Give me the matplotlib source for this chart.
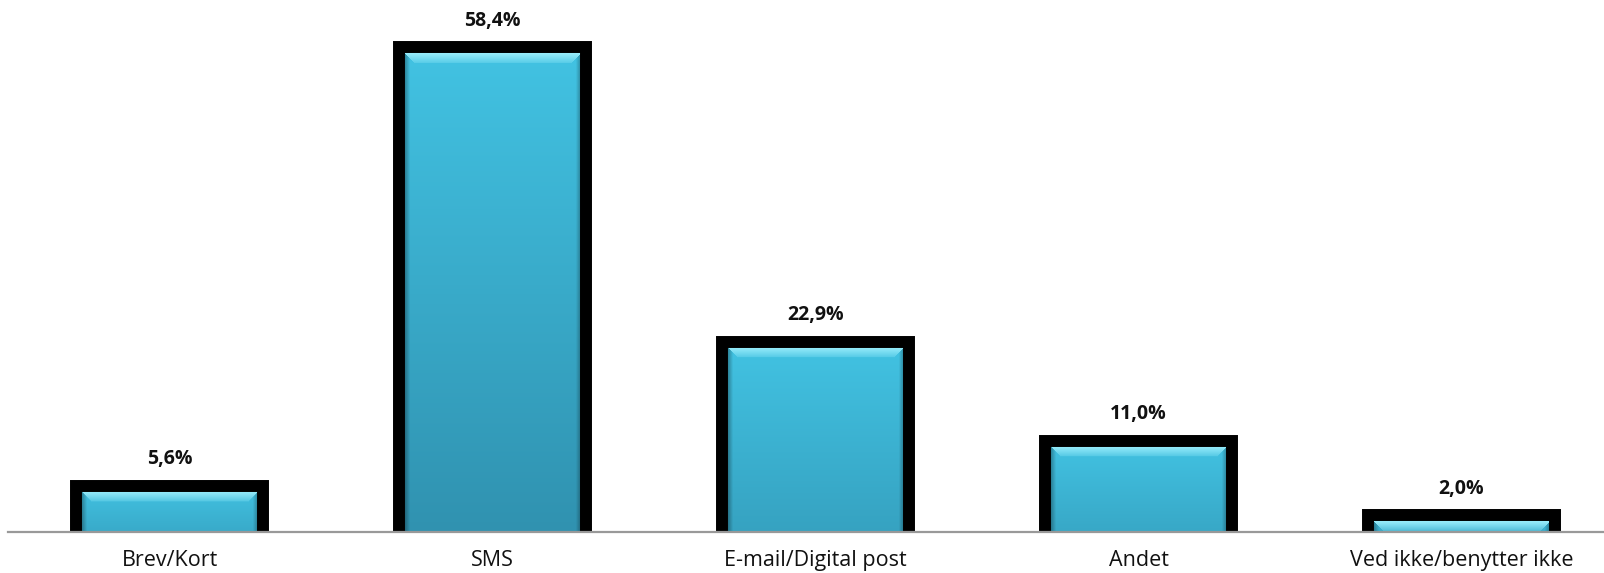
import numpy as np
import matplotlib
matplotlib.use("Agg")
import matplotlib.pyplot as plt

plt.rcParams['font.family'] = ['Open Sans', 'DejaVu Sans']

# data
kategorier = ['Brev/Kort', 'SMS', 'E-mail/Digital post', 'Andet', 'Ved ikke/benytter ikke']
andel = [5.6, 58.4, 22.9, 11.0, 2.0]
etiketter = ['5,6%', '58,4%', '22,9%', '11,0%', '2,0%']

W, H, DPI = 1604, 573, 100
fig = plt.figure(figsize=(W / DPI, H / DPI), dpi=DPI)
ax = fig.add_axes([8 / W, 41 / H, 5 * 323 / W, 532 / H])
ax.set_xlim(-0.5, 4.5)
ax.set_ylim(0, 64.1)

bar_w = 0.582
top_col = np.array([0x42, 0xc3, 0xe3]) / 255
bot_col = np.array([0x30, 0x92, 0xb0]) / 255
hi_col = np.array([0x9c, 0xee, 0xfc]) / 255

px_per_x = 323.0
px_per_y = 532 / 64.1


def bar_image(value):
    # vertical gradient with a bevelled top edge, in pixel resolution
    w = int(round(bar_w * px_per_x))
    h = max(int(round(value * px_per_y)), 4)
    yy, xx = np.mgrid[0:h, 0:w]
    frac = yy / max(h - 1, 1)
    depth = min(1.0, 0.45 + 0.55 * value / 58.4)
    img = top_col + (bot_col - top_col) * (frac * depth)[..., None]
    b = 6
    t = yy - b
    side = np.minimum(xx - b, w - 1 - xx - b)
    bev = 10
    top_mask = (t >= 0) & (t < bev) & (t <= side)
    mix = np.clip(0.95 - 0.75 * t / bev, 0, 1)
    img[top_mask] = img[top_mask] + (hi_col - img[top_mask]) * mix[top_mask][:, None]
    side_mask = (side >= 0) & (side < 5) & ~top_mask
    shade = 0.72 + 0.06 * np.clip(side, 0, 5)
    img[side_mask] = img[side_mask] * shade[side_mask][:, None]
    return np.clip(img, 0, 1)


for i, v in enumerate(andel):
    x0 = i - bar_w / 2
    x1 = x0 + bar_w
    ax.imshow(bar_image(v), extent=[x0, x1, 0, v], aspect='auto',
              interpolation='bilinear', zorder=2)
    # black frame on the left, top and right sides only
    ax.plot([x0, x0, x1, x1], [-1, v, v, -1], color='black', linewidth=8.6,
            solid_joinstyle='miter', solid_capstyle='butt', zorder=3)
    ax.text(i, v + 3.2, etiketter[i], ha='center', va='center',
            fontsize=14, fontweight='bold', color='#111111')

ax.set_xlim(-0.5, 4.5)
ax.set_ylim(0, 64.1)
ax.set_xticks(range(len(kategorier)))
ax.set_xticklabels(kategorier, fontsize=15.5, color='#111111')
ax.tick_params(axis='x', length=0, pad=13)
ax.set_yticks([])
for s in ['top', 'left', 'right']:
    ax.spines[s].set_visible(False)
ax.spines['bottom'].set_color('#999999')
ax.spines['bottom'].set_linewidth(1.6)
ax.spines['bottom'].set_zorder(4)

fig.savefig('out.png', dpi=DPI)
